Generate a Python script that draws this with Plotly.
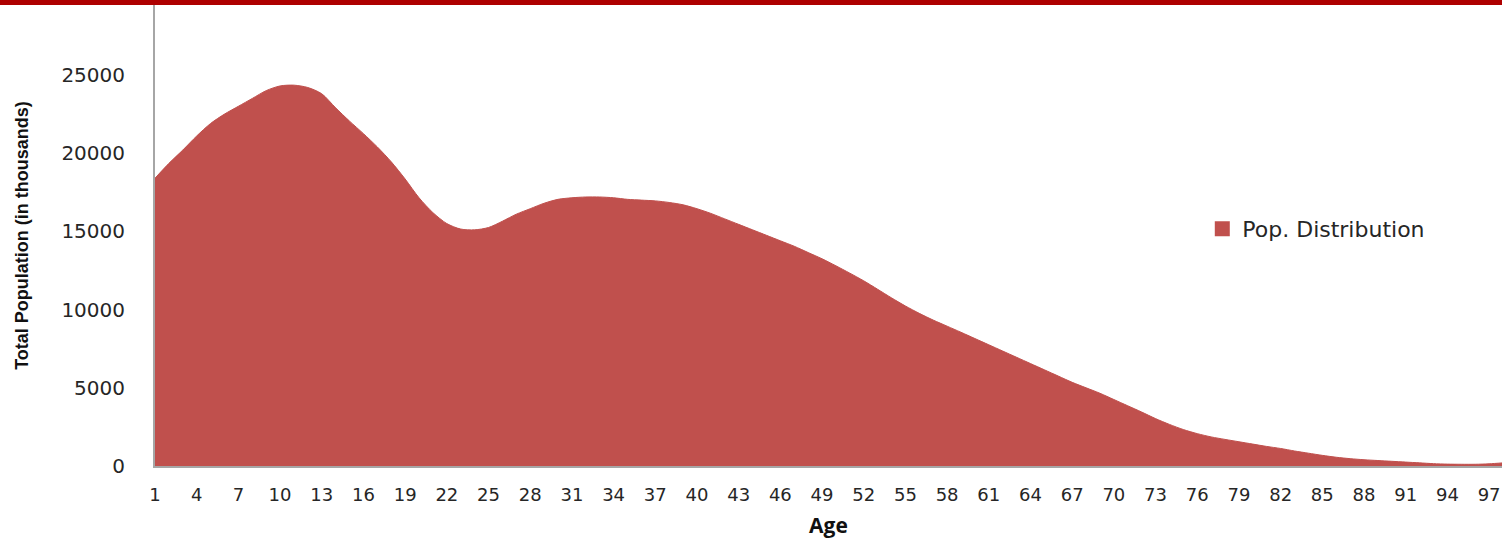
import plotly.graph_objects as go

# Population by single year of age (thousands)
ages = list(range(1, 99))
population = [
    18400, 19350, 20200, 21100, 21900, 22500, 23000, 23500, 24000, 24300,
    24350, 24200, 23800, 22900, 22050, 21250, 20400, 19450, 18350, 17150,
    16200, 15500, 15150, 15100, 15250, 15650, 16100, 16450, 16800, 17050,
    17150, 17200, 17200, 17150, 17050, 17000, 16950, 16850, 16700, 16450,
    16150, 15800, 15450, 15100, 14750, 14400, 14050, 13650, 13250, 12800,
    12330, 11840, 11300, 10750, 10230, 9760, 9330, 8940, 8550, 8150,
    7750, 7350, 6950, 6550, 6150, 5750, 5350, 5000, 4650, 4250,
    3850, 3450, 3030, 2660, 2330, 2070, 1860, 1700, 1550, 1400,
    1250, 1120, 960, 820, 680, 560, 470, 400, 350, 300,
    250, 200, 150, 120, 110, 110, 140, 200,
]
x_ticks = list(range(1, 98, 3))
y_ticks = [0, 5000, 10000, 15000, 20000, 25000]

FILL = "#C0504D"
TEXT = "#262626"
AXIS = "#A6A6A6"
TICK_FONT = "DejaVu Sans, sans-serif"

fig = go.Figure()
fig.add_trace(go.Scatter(
    x=ages, y=population, mode="lines", fill="tozeroy",
    fillcolor=FILL, line=dict(color=FILL, width=1, shape="spline", smoothing=0.8),
    showlegend=False, hoverinfo="x+y",
))
# legend entry drawn as a square swatch
fig.add_trace(go.Scatter(
    x=[None], y=[None], mode="markers", name="Pop. Distribution",
    marker=dict(symbol="square", size=15, color=FILL),
))

fig.update_layout(
    width=1502, height=539,
    margin=dict(l=155, r=0, t=5, b=73),
    paper_bgcolor="white", plot_bgcolor="white",
    font=dict(family=TICK_FONT, color=TEXT),
    legend=dict(
        x=0.7775, y=0.514, xanchor="left", yanchor="middle",
        font=dict(size=22, color=TEXT, family=TICK_FONT),
        bgcolor="rgba(0,0,0,0)",
    ),
    shapes=[dict(
        type="rect", xref="paper", yref="paper", ysizemode="pixel",
        yanchor=1, x0=-0.2, x1=1.01, y0=0, y1=6,
        fillcolor="#AE0000", line=dict(width=0), layer="above",
    )],
)

fig.update_xaxes(
    range=[1, 97.93], tickmode="array", tickvals=x_ticks,
    ticktext=[str(v) for v in x_ticks],
    showgrid=False, zeroline=False, automargin=False,
    showline=True, linecolor=AXIS, linewidth=2,
    ticks="outside", ticklen=11, tickcolor="rgba(0,0,0,0)",
    tickfont=dict(size=18, color=TEXT, family=TICK_FONT),
    title=dict(text="<b>Age</b>", standoff=18,
               font=dict(size=21, color="#111111", family="Open Sans, sans-serif")),
)
fig.update_yaxes(
    range=[0, 29476], tickmode="array", tickvals=y_ticks,
    ticktext=[str(v) for v in y_ticks],
    showgrid=False, zeroline=False, automargin=False,
    showline=True, linecolor=AXIS, linewidth=2,
    ticks="outside", ticklen=24, tickcolor="rgba(0,0,0,0)",
    tickfont=dict(size=20, color=TEXT, family=TICK_FONT),
    title=dict(text="<b>Total Population (in thousands)</b>", standoff=28,
               font=dict(size=18, color="#111111",
                         family="Liberation Sans Narrow, Arial Narrow, sans-serif")),
)

fig.write_html("out.html")
